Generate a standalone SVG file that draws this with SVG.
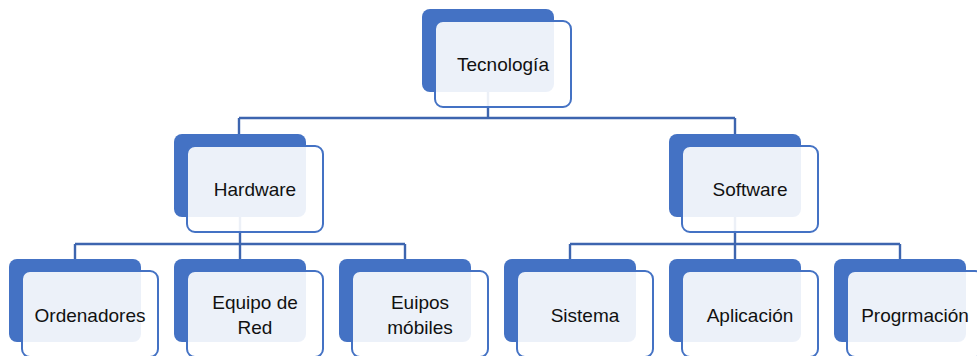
<svg xmlns="http://www.w3.org/2000/svg" width="977" height="356" viewBox="0 0 977 356">
  <style>
    .back { fill: #4472C4; }
    .front { fill: #FFFFFF; fill-opacity: 0.9; stroke: #4472C4; stroke-width: 2; }
    .link { fill: none; stroke: #3D65AF; stroke-width: 2.4; }
    .label { font-family: "Liberation Sans", Arial, sans-serif; font-size: 19px; fill: #111; text-anchor: middle; dominant-baseline: central; }
  </style>
  <defs>
    <rect id="backRect" class="back" width="132" height="83" rx="8"/>
    <rect id="frontRect" class="front" x="13" y="12" width="136" height="86" rx="8"/>
  </defs>

  <rect width="977" height="356" fill="#FFFFFF"/>

  <g id="connectors">
    <path class="link" d="M488 92 V118 M239 118 H735 M239 118 V134 M735 118 V134"/>
    <path class="link" d="M240 217 V244 M75 244 H405 M75 244 V259 M240 244 V259 M405 244 V259"/>
    <path class="link" d="M735 217 V244 M570 244 H900 M570 244 V259 M735 244 V259 M900 244 V259"/>
  </g>

  <g id="tecnologia" transform="translate(422 9)">
    <use href="#backRect"/><use href="#frontRect"/>
    <text class="label" x="81" y="55">Tecnología</text>
  </g>

  <g id="hardware" transform="translate(174 134)">
    <use href="#backRect"/><use href="#frontRect"/>
    <text class="label" x="81" y="55">Hardware</text>
  </g>

  <g id="software" transform="translate(669 134)">
    <use href="#backRect"/><use href="#frontRect"/>
    <text class="label" x="81" y="55">Software</text>
  </g>

  <g id="ordenadores" transform="translate(9 259)">
    <use href="#backRect"/><use href="#frontRect"/>
    <text class="label" x="81" y="56">Ordenadores</text>
  </g>

  <g id="equipo-red" transform="translate(174 259)">
    <use href="#backRect"/><use href="#frontRect"/>
    <text class="label" x="81" y="43">Equipo de</text>
    <text class="label" x="81" y="68">Red</text>
  </g>

  <g id="euipos-mobiles" transform="translate(339 259)">
    <use href="#backRect"/><use href="#frontRect"/>
    <text class="label" x="81" y="43">Euipos</text>
    <text class="label" x="81" y="68">móbiles</text>
  </g>

  <g id="sistema" transform="translate(504 259)">
    <use href="#backRect"/><use href="#frontRect"/>
    <text class="label" x="81" y="56">Sistema</text>
  </g>

  <g id="aplicacion" transform="translate(669 259)">
    <use href="#backRect"/><use href="#frontRect"/>
    <text class="label" x="81" y="56">Aplicación</text>
  </g>

  <g id="progrmacion" transform="translate(834 259)">
    <use href="#backRect"/><use href="#frontRect"/>
    <text class="label" x="81" y="56">Progrmación</text>
  </g>
</svg>
